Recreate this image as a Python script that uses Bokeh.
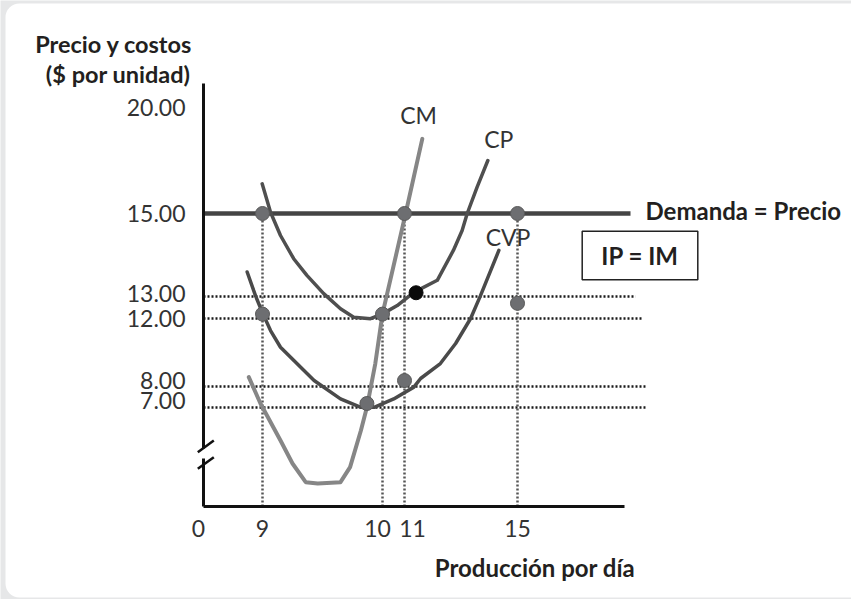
from bokeh.plotting import figure
from bokeh.models import Range1d, FixedTicker, Label, Arrow, LinearAxis, BoxAnnotation
from bokeh.embed import file_html
from bokeh.resources import INLINE
import numpy as np

# ---------------- data (economic units) ----------------
x_tick_vals = [0, 9, 10, 11, 15]
x_tick_labels = ["0", "9", "10", "11", "15"]
y_tick_vals = [7, 8, 12, 13, 15, 20]
y_tick_labels = ["7.00", "8.00", "12.00", "13.00", "15.00", "20.00"]

price = 15
demand_end = 19.0

# CM (marginal cost)
cm_q = [6.91, 8.69, 9.15, 9.25, 9.36, 9.46, 9.65, 9.73, 9.82, 9.87, 9.94, 10.0, 11.04, 11.63]
cm_c = [8.55, 7.19, 4.67, 3.04, 1.72, 1.63, 1.72, 2.78, 5.37, 7.01, 9.35, 12.21, 15.0, 18.52]

# CP (average total cost)
cp_q = [8.95, 9.067, 9.15, 9.26, 9.37, 9.51, 9.65, 9.76, 9.90, 10.0, 10.67, 11.33, 12.16, 12.73, 13.04, 13.22, 13.57, 13.95]
cp_c = [16.40, 15.06, 14.47, 13.91, 13.51, 13.07, 12.44, 12.06, 11.99, 12.21, 12.59, 13.10, 13.39, 14.11, 14.59, 15.0, 16.24, 17.5]

# CVP (average variable cost)
cvp_q = [6.66, 7.93, 8.95, 9.067, 9.15, 9.43, 9.65, 9.82, 9.93, 10.51, 11.33, 11.57, 12.27, 12.81, 13.34, 13.69, 14.34]
cvp_c = [13.59, 13.02, 12.29, 11.29, 10.31, 8.35, 7.41, 7.01, 7.01, 7.41, 7.97, 8.47, 9.35, 10.53, 12.0, 13.02, 14.11]

# marked points
pts_q = [9, 11, 15, 9, 10, 15, 11, 9.87]
pts_c = [15, 15, 15, 12.2, 12.2, 12.69, 8.35, 7.19]
black_q = [11.41]
black_c = [13.09]

# dotted guide lines
h_levels = [13, 12, 8, 7]
h_ends = [19.18, 19.46, 19.53, 19.53]
v_qs = [9, 10, 11, 15]
v_tops = [15, 12, 15, 15]

# ---------------- schematic (broken) scale of the drawing ----------------
XB_Q = [0, 9, 10, 11, 15, 25]
XB_U = [0, 59, 179, 201, 314, 596.5]
YB_C = [0, 7, 8, 12, 13, 15, 20, 25]
YB_U = [0, 99, 120, 188, 210, 293, 399, 505]
# small label nudges (px) as in the original artwork
x_label_nudge = [-5, 0, -5, 8, 0]
y_label_nudge = [7, 6, 0, 2.7, 0, 0]


def wx(q):
    return np.interp(np.asarray(q, dtype=float), XB_Q, XB_U)


def wy(c):
    return np.interp(np.asarray(c, dtype=float), YB_C, YB_U)


FONT = "Lato"
DARK = "#231f20"

p = figure(width=851, height=599, output_backend="svg", toolbar_location=None,
           x_range=Range1d(-203, 648), y_range=Range1d(-93, 506),
           x_axis_type=None, y_axis_type=None,
           min_border_left=0, min_border_right=0, min_border_top=0, min_border_bottom=0)
p.outline_line_color = None
p.background_fill_color = "#e6e7e8"
p.border_fill_color = "#e6e7e8"

# white rounded panel
p.add_layout(BoxAnnotation(left=-198, right=680, bottom=-91, top=503,
                           fill_color="white", fill_alpha=1, line_color=None,
                           border_radius=14, level="underlay"))

# axes
xt = [float(v + n) for v, n in zip(wx(x_tick_vals), x_label_nudge)]
yt = [float(v + n) for v, n in zip(wy(y_tick_vals), y_label_nudge)]
xaxis = LinearAxis(ticker=FixedTicker(ticks=xt, minor_ticks=[]),
                   major_label_overrides={k: s for k, s in zip(xt, x_tick_labels)},
                   bounds=(0, float(wx(18.8))), fixed_location=0)
yaxis = LinearAxis(ticker=FixedTicker(ticks=yt, minor_ticks=[]),
                   major_label_overrides={k: s for k, s in zip(yt, y_tick_labels)},
                   bounds=(0, float(wy(21.13))), fixed_location=0)
for ax in (xaxis, yaxis):
    ax.axis_line_width = 3
    ax.axis_line_color = "#111111"
    ax.major_tick_line_color = None
    ax.minor_tick_line_color = None
    ax.major_label_text_font = FONT
    ax.major_label_text_font_size = "23px"
    ax.major_label_text_color = "#333333"
xaxis.major_label_standoff = 7
yaxis.major_label_standoff = 12
p.add_layout(xaxis, "below")
p.add_layout(yaxis, "left")

# dotted horizontal guides
p.multi_line(xs=[[float(wx(0)), float(wx(e))] for e in h_ends],
             ys=[[float(wy(h)), float(wy(h))] for h in h_levels],
             line_color="#1a1a1a", line_width=2.5, line_dash="2 2")
# dotted vertical guides
p.multi_line(xs=[[float(wx(q)), float(wx(q))] for q in v_qs],
             ys=[[float(wy(0)), float(wy(t))] for t in v_tops],
             line_color="#555555", line_width=2.5, line_dash="2 2")

# demand line
p.line(x=wx([0, demand_end]), y=wy([price, price]), line_color="#444444", line_width=4.5)

# cost curves
p.line(x=wx(cm_q), y=wy(cm_c), line_color="#868686", line_width=4, line_join="round", line_cap="round")
p.line(x=wx(cp_q), y=wy(cp_c), line_color="#4f4f4f", line_width=3.5, line_join="round", line_cap="round")
p.line(x=wx(cvp_q), y=wy(cvp_c), line_color="#4a4a4a", line_width=3.5, line_join="round", line_cap="round")

# points
p.scatter(x=wx(pts_q), y=wy(pts_c), size=14, fill_color="#6d6e71", line_color="#5a5a5a", line_width=1)
p.scatter(x=wx(black_q), y=wy(black_c), size=14, fill_color="#0a0a0a", line_color="#0a0a0a")

# IP = IM box
p.quad(left=[378.7], right=[494.3], bottom=[226.7], top=[275.3],
       fill_color=None, line_color="#222222", line_width=1.5)

# axis break
p.add_layout(Arrow(end=None, x_start=0, y_start=48, x_end=0, y_end=58,
                   line_color="white", line_width=6))
p.add_layout(Arrow(end=None, x_start=-5.7, y_start=54.3, x_end=10.3, y_end=66,
                   line_color="#111111", line_width=2.5))
p.add_layout(Arrow(end=None, x_start=-5.7, y_start=37.7, x_end=10.3, y_end=49.3,
                   line_color="#111111", line_width=2.5))


def label(x, y, text, bold=False, align="left", size="23px", color=DARK):
    p.add_layout(Label(x=x, y=y, text=text, text_font=FONT, text_font_size=size,
                       text_font_style="bold" if bold else "normal",
                       text_align=align, text_baseline="middle", text_color=color))


label(-11, 463, "Precio y costos", bold=True, align="right", size="23.5px")
label(-13, 433, "($ por unidad)", bold=True, align="right", size="23.5px")
label(331.5, -61, "Producción por día", bold=True, align="center", size="24px")
label(442, 296, "Demanda = Precio", bold=True, align="left", size="24px")
label(436.5, 251, "IP = IM", bold=True, align="center", size="24px")
label(215, 392, "CM", align="center", color="#333333")
label(295.3, 367.7, "CP", align="center", color="#333333")
label(304.5, 270, "CVP", align="center", color="#333333")

open("out.html", "w").write(file_html(p, INLINE))
